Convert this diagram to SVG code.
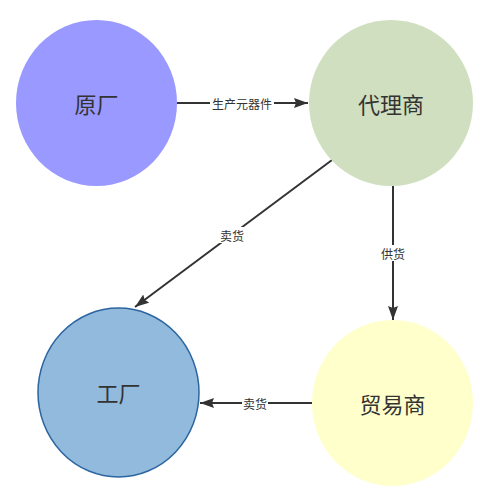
<svg xmlns="http://www.w3.org/2000/svg" width="500" height="493" viewBox="0 0 500 493">
<defs>
<style>
.node-text{font-family:"Noto Sans CJK SC","Noto Sans",sans-serif;font-size:22px;fill:#333333;text-anchor:middle;dominant-baseline:central}
.edge{stroke:#333333;stroke-width:2;fill:none}
.lbl{font-family:"Noto Sans CJK SC","Noto Sans",sans-serif;font-size:12px;fill:#333333;text-anchor:middle;dominant-baseline:central}
.lblbg{fill:#ffffff}
</style>
<marker id="arrow" markerWidth="16" markerHeight="12" refX="14" refY="5" orient="auto" markerUnits="userSpaceOnUse">
<path d="M0,0 L14,5 L0,10 L2,5 Z" fill="#333333"/>
</marker>
</defs>
<rect width="500" height="493" fill="#ffffff"/>
<g id="connectors">
<line class="edge" x1="177" y1="103" x2="308" y2="103" marker-end="url(#arrow)"/>
<line class="edge" x1="332" y1="160" x2="135" y2="307" marker-end="url(#arrow)"/>
<line class="edge" x1="393" y1="186" x2="393" y2="320" marker-end="url(#arrow)"/>
<line class="edge" x1="312" y1="403" x2="200" y2="403" marker-end="url(#arrow)"/>
<rect class="lblbg" x="210" y="95" width="64" height="16"/>
<text class="lbl" x="242" y="103">生产元器件</text>
<rect class="lblbg" x="219" y="227" width="26" height="16"/>
<text class="lbl" x="232" y="235">卖货</text>
<rect class="lblbg" x="380" y="245" width="26" height="16"/>
<text class="lbl" x="393" y="253">供货</text>
<rect class="lblbg" x="242" y="395" width="26" height="16"/>
<text class="lbl" x="255" y="403">卖货</text>
</g>
<g id="node-yuanchang">
<ellipse cx="96.5" cy="103" rx="80.5" ry="83" fill="#9999FF"/>
<text class="node-text" x="96.5" y="103">原厂</text>
</g>
<g id="node-dailishang">
<ellipse cx="391" cy="103" rx="82" ry="83" fill="#D0DFC0"/>
<text class="node-text" x="391" y="103">代理商</text>
</g>
<g id="node-gongchang">
<ellipse cx="118.5" cy="392.5" rx="80.5" ry="84.5" fill="#91BADD" stroke="#2C65A0" stroke-width="1.5"/>
<text class="node-text" x="118.5" y="392">工厂</text>
</g>
<g id="node-maoyishang">
<ellipse cx="392.5" cy="403" rx="80.5" ry="83" fill="#FFFFCC"/>
<text class="node-text" x="392.5" y="403">贸易商</text>
</g>
</svg>
